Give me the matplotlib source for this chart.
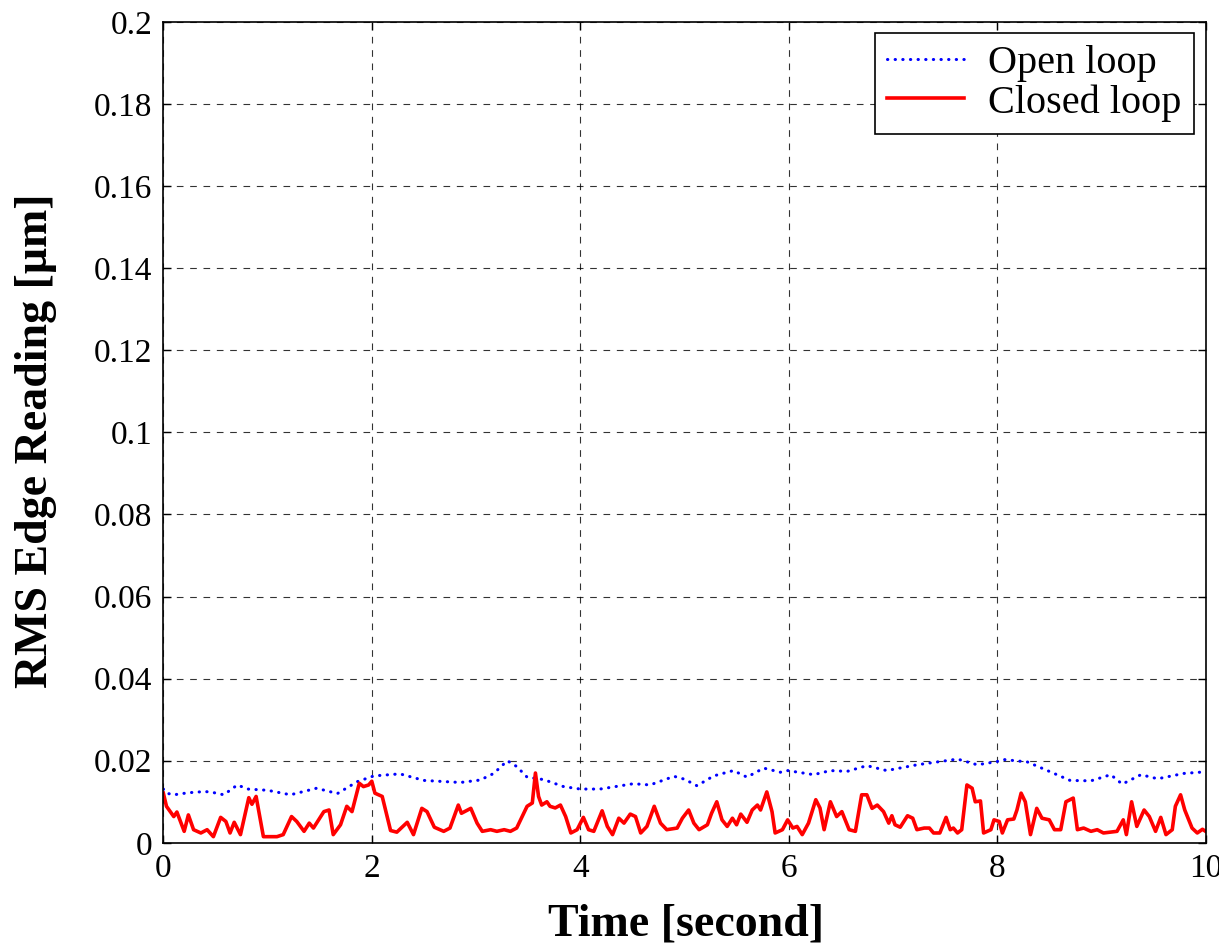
import matplotlib.pyplot as plt
import numpy as np

# Open loop RMS edge reading (time in seconds, value in micrometres)
open_t = [0.0, 0.03, 0.1, 0.24, 0.4, 0.47, 0.58, 0.71, 0.81, 1.0, 1.22, 1.47, 1.67,
          1.86, 2.02, 2.27, 2.5, 2.85, 3.04, 3.17, 3.3, 3.39, 3.49, 3.65, 3.84, 4.0,
          4.19, 4.51, 4.67, 4.9, 5.0, 5.12, 5.28, 5.47, 5.6, 5.76, 5.92, 5.99, 6.24,
          6.4, 6.56, 6.75, 6.94, 7.23, 7.62, 7.81, 8.0, 8.06, 8.29, 8.51, 8.7, 8.9,
          9.09, 9.2, 9.38, 9.54, 9.79, 10.0]
open_v = [0.0131, 0.0121, 0.0117, 0.0122, 0.0125, 0.0123, 0.0117, 0.0141, 0.0131,
          0.0128, 0.0117, 0.0133, 0.0120, 0.0149, 0.0163, 0.0168, 0.0152, 0.0147,
          0.0153, 0.0169, 0.0200, 0.0186, 0.0160, 0.0154, 0.0137, 0.0131, 0.0131,
          0.0144, 0.0141, 0.0162, 0.0155, 0.0139, 0.0163, 0.0176, 0.0160, 0.0182,
          0.0172, 0.0176, 0.0166, 0.0176, 0.0174, 0.0188, 0.0176, 0.0190, 0.0204,
          0.0190, 0.0198, 0.0203, 0.0197, 0.0173, 0.0152, 0.0151, 0.0166, 0.0143,
          0.0166, 0.0156, 0.0169, 0.0173]

# Closed loop RMS edge reading
closed_t = [0.0, 0.03, 0.1, 0.13, 0.2, 0.24, 0.29, 0.36, 0.42, 0.48, 0.55, 0.6, 0.64,
            0.68, 0.74, 0.82, 0.85, 0.89, 0.96, 1.09, 1.15, 1.23, 1.28, 1.35, 1.4,
            1.44, 1.54, 1.59, 1.63, 1.7, 1.76, 1.81, 1.88, 1.92, 1.97, 2.0, 2.03,
            2.1, 2.18, 2.24, 2.34, 2.4, 2.48, 2.53, 2.6, 2.69, 2.75, 2.83, 2.86,
            2.95, 3.01, 3.06, 3.14, 3.2, 3.27, 3.33, 3.39, 3.49, 3.54, 3.57, 3.6,
            3.63, 3.68, 3.71, 3.76, 3.81, 3.86, 3.91, 3.97, 4.03, 4.08, 4.13, 4.21,
            4.26, 4.31, 4.37, 4.42, 4.48, 4.53, 4.58, 4.64, 4.71, 4.77, 4.83, 4.93,
            4.98, 5.04, 5.09, 5.14, 5.22, 5.26, 5.31, 5.36, 5.41, 5.46, 5.5, 5.54,
            5.6, 5.65, 5.7, 5.73, 5.79, 5.84, 5.87, 5.94, 5.99, 6.04, 6.08, 6.13,
            6.19, 6.26, 6.3, 6.34, 6.4, 6.46, 6.51, 6.58, 6.64, 6.7, 6.75, 6.8,
            6.85, 6.91, 6.96, 6.99, 7.02, 7.07, 7.14, 7.19, 7.23, 7.3, 7.35, 7.39,
            7.45, 7.51, 7.55, 7.58, 7.62, 7.66, 7.71, 7.76, 7.79, 7.84, 7.87, 7.94,
            7.97, 8.02, 8.05, 8.1, 8.16, 8.19, 8.23, 8.27, 8.32, 8.38, 8.43, 8.5,
            8.55, 8.61, 8.66, 8.73, 8.77, 8.83, 8.9, 8.96, 9.02, 9.15, 9.21, 9.24,
            9.29, 9.34, 9.41, 9.46, 9.52, 9.57, 9.62, 9.68, 9.71, 9.76, 9.8, 9.87,
            9.92, 9.97, 10.0]
closed_v = [0.0121, 0.0089, 0.0064, 0.0075, 0.0028, 0.0068, 0.0032, 0.0024, 0.0032,
            0.0015, 0.0062, 0.0052, 0.0024, 0.0050, 0.0020, 0.0110, 0.0094, 0.0113,
            0.0015, 0.0015, 0.0020, 0.0064, 0.0052, 0.0028, 0.0048, 0.0036, 0.0076,
            0.0080, 0.0020, 0.0044, 0.0089, 0.0076, 0.0145, 0.0137, 0.0141, 0.0150,
            0.0121, 0.0113, 0.0030, 0.0026, 0.0050, 0.0020, 0.0084, 0.0076, 0.0038,
            0.0028, 0.0036, 0.0092, 0.0072, 0.0084, 0.0048, 0.0028, 0.0032, 0.0028,
            0.0032, 0.0028, 0.0036, 0.0089, 0.0097, 0.0170, 0.0113, 0.0092, 0.0100,
            0.0089, 0.0085, 0.0092, 0.0064, 0.0024, 0.0032, 0.0062, 0.0032, 0.0028,
            0.0078, 0.0040, 0.0020, 0.0060, 0.0048, 0.0070, 0.0064, 0.0024, 0.0040,
            0.0089, 0.0048, 0.0032, 0.0036, 0.0060, 0.0080, 0.0048, 0.0032, 0.0044,
            0.0072, 0.0100, 0.0056, 0.0040, 0.0060, 0.0044, 0.0070, 0.0050, 0.0080,
            0.0092, 0.0080, 0.0124, 0.0076, 0.0024, 0.0032, 0.0056, 0.0036, 0.0040,
            0.0020, 0.0048, 0.0105, 0.0085, 0.0032, 0.0100, 0.0064, 0.0076, 0.0032,
            0.0028, 0.0117, 0.0117, 0.0084, 0.0092, 0.0076, 0.0048, 0.0066, 0.0044,
            0.0038, 0.0066, 0.0060, 0.0032, 0.0036, 0.0036, 0.0024, 0.0024, 0.0062,
            0.0032, 0.0036, 0.0024, 0.0032, 0.0141, 0.0133, 0.0100, 0.0102, 0.0024,
            0.0032, 0.0056, 0.0052, 0.0024, 0.0056, 0.0058, 0.0080, 0.0121, 0.0100,
            0.0020, 0.0084, 0.0060, 0.0056, 0.0032, 0.0032, 0.0100, 0.0109, 0.0032,
            0.0036, 0.0028, 0.0032, 0.0024, 0.0028, 0.0056, 0.0020, 0.0100, 0.0040,
            0.0080, 0.0064, 0.0028, 0.0062, 0.0020, 0.0032, 0.0089, 0.0117, 0.0080,
            0.0036, 0.0024, 0.0033, 0.0028]

xticks = [0, 2, 4, 6, 8, 10]
yticks = [0, 0.02, 0.04, 0.06, 0.08, 0.1, 0.12, 0.14, 0.16, 0.18, 0.2]

plt.rcParams['font.family'] = ['Liberation Serif', 'DejaVu Serif']

fig = plt.figure(figsize=(12.19, 9.47), dpi=100)
ax = fig.add_axes([0.134, 0.110, 0.855, 0.867])

ax.plot(open_t, open_v, color='blue', linestyle=(0, (0.1, 2.4)), linewidth=2.2,
        dash_capstyle='round', label='Open loop')
ax.plot(closed_t, closed_v, color='red', linestyle='-', linewidth=2.6,
        label='Closed loop')

ax.set_xlim(0, 10)
ax.set_ylim(0, 0.2)
ax.set_xticks(xticks)
ax.set_yticks(yticks)
ax.set_xticklabels([f'{v:g}' for v in xticks])
ax.set_yticklabels([f'{v:g}' for v in yticks])
ax.tick_params(direction='in', top=True, right=True, labelsize=24, length=6,
               width=1, pad=8)
ax.grid(True, color='black', linestyle=(0, (6, 6)), linewidth=0.8, alpha=0.8)
for s in ax.spines.values():
    s.set_linewidth(1.2)

ax.set_xlabel('Time [second]', fontsize=33, fontweight='bold')
ax.xaxis.set_label_coords(0.501, -0.074)
ax.set_ylabel('RMS Edge Reading [μm]', fontsize=33, fontweight='bold')
ax.yaxis.set_label_coords(-0.102, 0.49)

leg = ax.legend(loc='upper right', fontsize=29, frameon=True, fancybox=False,
                edgecolor='black', framealpha=1, handlelength=1.9,
                handletextpad=0.6, borderpad=0.3, labelspacing=0.05,
                borderaxespad=0, bbox_to_anchor=(0.9885, 0.9866))
leg.get_frame().set_linewidth(1.2)

fig.savefig('out.png', dpi=100)
